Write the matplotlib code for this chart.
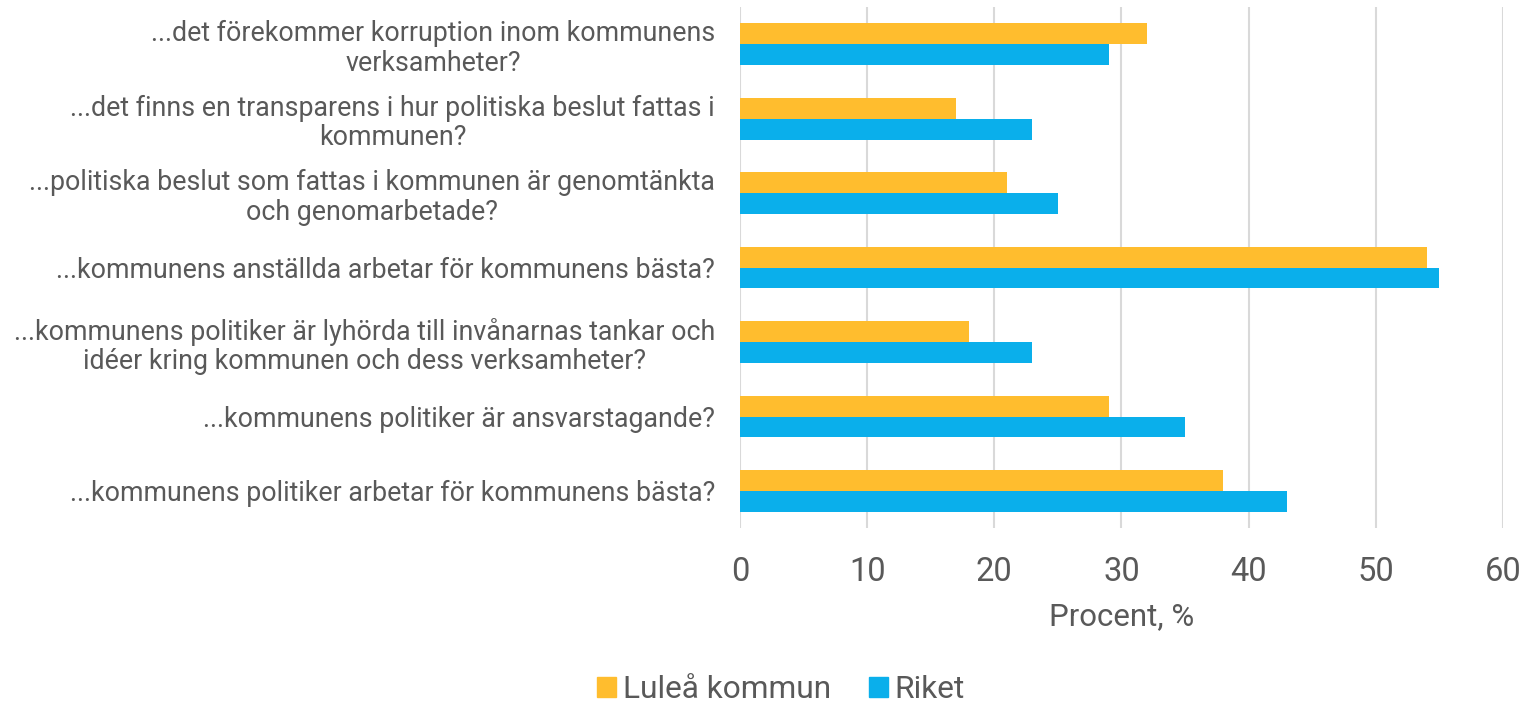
import numpy as np
import matplotlib.pyplot as plt
from matplotlib.patches import Patch

plt.rcParams['font.family'] = ['Roboto', 'DejaVu Sans']

COLOR_LULEA = '#FFBD2E'
COLOR_RIKET = '#0AAFEB'
TEXT_COLOR = '#595959'

questions = [
    "...det förekommer korruption inom kommunens\nverksamheter?",
    "...det finns en transparens i hur politiska beslut fattas i\nkommunen?",
    "...politiska beslut som fattas i kommunen är genomtänkta\noch genomarbetade?",
    "...kommunens anställda arbetar för kommunens bästa?",
    "...kommunens politiker är lyhörda till invånarnas tankar och\nidéer kring kommunen och dess verksamheter?",
    "...kommunens politiker är ansvarstagande?",
    "...kommunens politiker arbetar för kommunens bästa?",
]
lulea = [32, 17, 21, 54, 18, 29, 38]
riket = [29, 23, 25, 55, 23, 35, 43]

fig = plt.figure(figsize=(15.28, 7.08), dpi=100)
ax = fig.add_axes([0.4843, 0.254, 0.4993, 0.736])

y = np.arange(len(questions))
h = 0.28
ax.barh(y - h / 2, lulea, height=h, color=COLOR_LULEA, zorder=3)
ax.barh(y + h / 2, riket, height=h, color=COLOR_RIKET, zorder=3)

ax.set_ylim(len(questions) - 0.5, -0.5)
ax.set_xlim(0, 60)
ax.set_xticks(range(0, 61, 10))
ax.set_yticks(y)
ax.set_yticklabels(questions, fontsize=19.3, color=TEXT_COLOR, ha='right',
                   multialignment='center', linespacing=1.12)
ax.tick_params(axis='y', length=0, pad=18)
ax.tick_params(axis='x', length=0, pad=20, labelsize=23.5, labelcolor=TEXT_COLOR)
ax.grid(axis='x', color='#d9d9d9', lw=1.5, zorder=0)
for s in ax.spines.values():
    s.set_visible(False)

ax.set_xlabel('Procent, %', fontsize=22.5, color=TEXT_COLOR, labelpad=10)

handles = [Patch(color=COLOR_LULEA, label='Luleå kommun'),
           Patch(color=COLOR_RIKET, label='Riket')]
fig.legend(handles=handles, loc='center', bbox_to_anchor=(0.511, 0.026), ncol=2,
           frameon=False, fontsize=22.8, labelcolor=TEXT_COLOR,
           handlelength=0.6, handleheight=0.6, handletextpad=0.2, columnspacing=1.2)

fig.savefig('out.png', dpi=100)
